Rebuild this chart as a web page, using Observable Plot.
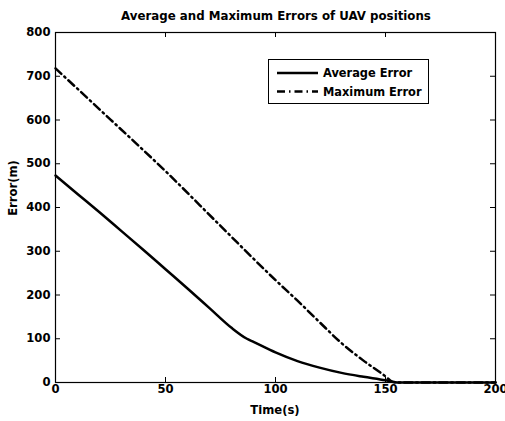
<!DOCTYPE html>
<html>
<head>
<meta charset="utf-8">
<script src="https://cdn.jsdelivr.net/npm/d3@7"></script>
<script src="https://cdn.jsdelivr.net/npm/@observablehq/plot@0.6"></script>
<style>
  html, body { margin: 0; padding: 0; background: #fff; }
  #chart { width: 505px; height: 421px; }
  svg text { font-family: "DejaVu Sans", sans-serif; font-weight: bold; }
</style>
</head>
<body>
<div id="chart"></div>
<script>
const titleText = "Average and Maximum Errors of UAV positions";
const xLabel = "Time(s)";
const yLabel = "Error(m)";
const seriesNames = ["Average Error", "Maximum Error"];
const xTicks = [0, 50, 100, 150, 200];
const yTicks = [0, 100, 200, 300, 400, 500, 600, 700, 800];

const avgTime  = [0, 10, 20, 30, 40, 50, 60, 70, 80, 87, 90, 100, 110, 120, 130, 140, 150, 154, 156, 180, 200];
const avgError = [473, 431, 389, 346, 303, 259, 215, 170, 125, 100, 93, 69, 49, 34, 22, 13, 5, 1, 0, 0, 0];

const maxTime  = [0, 25, 50, 75, 100, 110, 120, 130, 140, 150, 153, 155, 180, 200];
const maxError = [718, 601, 483, 358, 234, 187, 138, 90, 50, 14, 2, 0, 0, 0];

const avgData = avgTime.map((t, i) => ({t, v: avgError[i]}));
const maxData = maxTime.map((t, i) => ({t, v: maxError[i]}));

const W = 505, H = 421, mL = 55, mR = 10, mT = 32, mB = 39;
const fw = W - mL - mR, fh = H - mT - mB;
const tick = 5;
const dash = "8,4,1.5,4";
const fs = 11.6;

const plot = Plot.plot({
  width: W, height: H,
  marginLeft: mL, marginRight: mR, marginTop: mT, marginBottom: mB,
  style: {fontFamily: "DejaVu Sans, sans-serif", fontSize: fs + "px", fontWeight: "bold", color: "black", background: "white", overflow: "visible"},
  x: {domain: [0, 200]},
  y: {domain: [0, 800]},
  marks: [
    Plot.ruleX(xTicks, {x: d => d, insetTop: fh - tick, stroke: "black"}),
    Plot.ruleX(xTicks, {x: d => d, insetBottom: fh - tick, stroke: "black"}),
    Plot.ruleY(yTicks, {y: d => d, insetRight: fw - tick, stroke: "black"}),
    Plot.ruleY(yTicks, {y: d => d, insetLeft: fw - tick, stroke: "black"}),
    Plot.line(maxData, {x: "t", y: "v", stroke: "black", strokeWidth: 2.5, strokeDasharray: dash, curve: "monotone-x"}),
    Plot.line(avgData, {x: "t", y: "v", stroke: "black", strokeWidth: 2.5, curve: "monotone-x"}),
    Plot.frame({stroke: "black", strokeWidth: 1.2}),
    Plot.axisX(xTicks, {tickSize: 0, tickPadding: 2, label: null, fontSize: fs, fontWeight: "bold"}),
    Plot.axisY(yTicks, {tickSize: 0, tickPadding: 5, label: null, fontSize: fs, fontWeight: "bold"})
  ]
});

document.getElementById("chart").appendChild(plot);
const svg = d3.select(plot);

svg.append("text").attr("x", 276).attr("y", 20).attr("text-anchor", "middle")
  .attr("font-size", 11.8).attr("font-weight", "bold").attr("fill", "black").text(titleText);
svg.append("text").attr("x", mL + fw / 2).attr("y", 414).attr("text-anchor", "middle")
  .attr("font-size", fs).attr("font-weight", "bold").attr("fill", "black").text(xLabel);
svg.append("text").attr("transform", "translate(17,188) rotate(-90)").attr("text-anchor", "middle")
  .attr("font-size", fs).attr("font-weight", "bold").attr("fill", "black").text(yLabel);

const lg = svg.append("g");
lg.append("rect").attr("x", 268.5).attr("y", 59.5).attr("width", 160).attr("height", 44)
  .attr("fill", "white").attr("stroke", "black").attr("stroke-width", 1);
const rows = [{name: seriesNames[0], y: 73, dash: null}, {name: seriesNames[1], y: 91.5, dash: dash}];
rows.forEach(r => {
  lg.append("line").attr("x1", 277).attr("x2", 318).attr("y1", r.y).attr("y2", r.y)
    .attr("stroke", "black").attr("stroke-width", 2.5).attr("stroke-dasharray", r.dash);
  lg.append("text").attr("x", 323).attr("y", r.y).attr("dy", "0.36em").attr("text-anchor", "start")
    .attr("font-size", 11.4).attr("font-weight", "bold").attr("fill", "black").text(r.name);
});
</script>
</body>
</html>
